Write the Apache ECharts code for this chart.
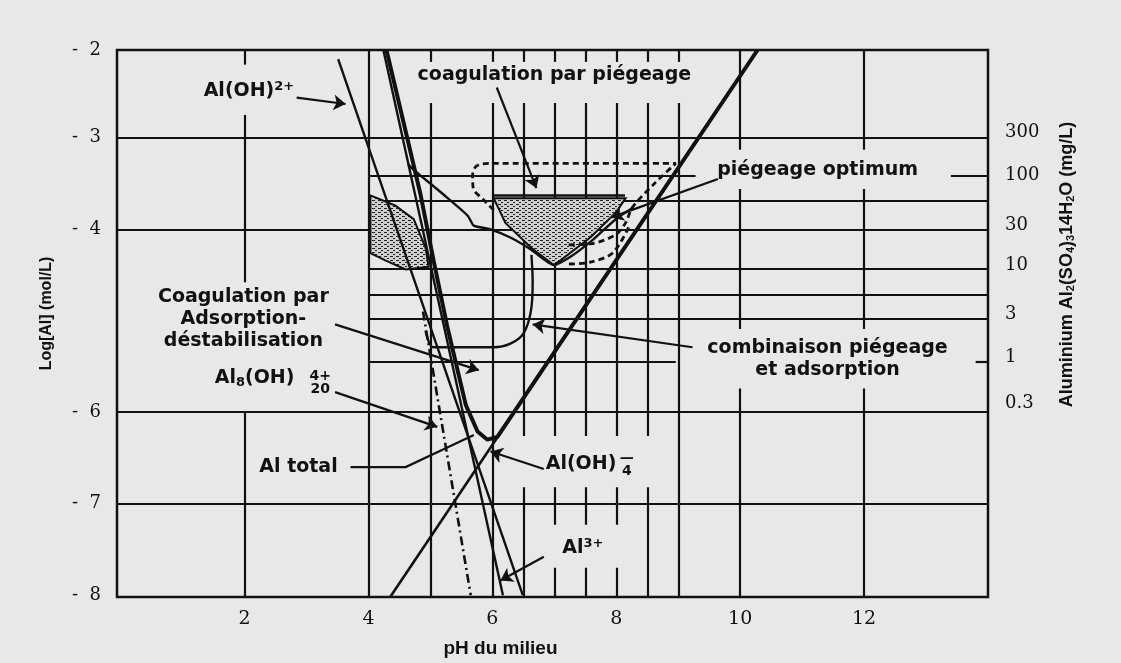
<!DOCTYPE html>
<html>
<head>
<meta charset="utf-8">
<script src="https://cdn.jsdelivr.net/npm/echarts@6/dist/echarts.min.js"></script>
<style>
  html, body { margin: 0; background: #e8e8e8; }
  #chart { width: 1121px; height: 663px; }
</style>
</head>
<body>
<div id="chart"></div>
<script>
// ticks (top tick sits on the frame edge)
const phTicks = [2, 4, 6, 8, 10, 12];
const logTicks = [-2.04, -3, -4, -6, -7, -8];
const mgTickLogs = [-2.94, -3.41, -3.96, -4.39, -4.93, -5.40, -5.90];
const mgTickLabels = ['300', '100', '30', '10', '3', '1', '0.3'];

// grid segments: vertical [pH, logFrom, logTo], horizontal [log, phFrom, phTo]
const gridVertical = [
  [2, -2.04, -2.2], [2, -2.75, -4.58], [2, -6, -8.02],
  [4, -2.04, -8.02],
  [5, -2.04, -2.17], [5, -2.62, -8.02],
  [6, -2.04, -2.17], [6, -2.62, -8.02],
  [6.5, -2.04, -2.17], [6.5, -2.62, -6.26], [6.5, -6.82, -8.02],
  [7, -2.04, -2.17], [7, -2.62, -6.26], [7, -6.82, -7.23], [7, -7.7, -8.02],
  [7.5, -2.04, -2.17], [7.5, -2.62, -6.26], [7.5, -6.82, -7.23], [7.5, -7.7, -8.02],
  [8, -2.04, -2.17], [8, -2.62, -6.26], [8, -6.82, -7.23], [8, -7.7, -8.02],
  [8.5, -2.04, -2.17], [8.5, -2.62, -6.26], [8.5, -6.82, -8.02],
  [9, -2.04, -2.17], [9, -2.62, -8.02],
  [10, -2.04, -3.13], [10, -3.56, -5.09], [10, -5.74, -8.02],
  [12, -2.04, -3.13], [12, -3.56, -5.09], [12, -5.74, -8.02]
];
const gridHorizontal = [
  [-3, -0.06, 14], [-4, -0.06, 14], [-6, -0.06, 14], [-7, -0.06, 14],
  [-3.42, 4, 9.28], [-3.42, 13.4, 14],
  [-3.69, 4, 14], [-4.43, 4, 14], [-4.72, 4, 14], [-4.98, 4, 14],
  [-5.45, 4, 8.96], [-5.45, 13.8, 14]
];

// species lines
const alOH2 = [[3.51, -2.14], [6.49, -8.0]];
const al3 = [[4.24, -2.04], [6.17, -8.0]];
const alOH4 = [[4.35, -8.02], [10.28, -2.04]];
const al8 = [[4.88, -4.9], [5.65, -8.0]];
const alTotal = [[4.29, -2.04], [4.84, -3.62], [5.05, -4.34], [5.27, -5.06], [5.57, -5.92],
  [5.76, -6.21], [5.92, -6.30], [6.08, -6.27], [10.28, -2.04]];

// zones
const sweepOuter = [[6.02, -3.79], [5.86, -3.68], [5.69, -3.55], [5.68, -3.41], [5.74, -3.31],
  [5.94, -3.28], [8.96, -3.28], [8.63, -3.49], [8.26, -3.76], [8.15, -3.93], [7.99, -4.06],
  [7.58, -4.16], [7.20, -4.17]];
const sweepInner = [[8.20, -3.98], [7.94, -4.26], [7.58, -4.36], [7.20, -4.38]];
const optimumZone = [[6.02, -3.66], [8.15, -3.66], [7.99, -3.82], [7.58, -4.09], [7.10, -4.34],
  [6.99, -4.39], [6.62, -4.20], [6.21, -3.93]];
const optimumTop = [[6.0, -3.63], [8.14, -3.63]];
const leftZone = [[4.03, -3.63], [4.43, -3.74], [4.73, -3.89], [4.92, -4.20], [4.97, -4.41],
  [4.60, -4.44], [4.27, -4.34], [4.03, -4.26]];
const comboCurve = [[4.92, -5.11], [5.05, -5.29], [6.02, -5.29], [6.29, -5.25], [6.50, -5.14],
  [6.62, -4.90], [6.65, -4.57], [6.63, -4.28]];
const vCurve = [[4.64, -3.29], [4.73, -3.35], [5.21, -3.62], [5.60, -3.85], [5.70, -3.96],
  [5.97, -4.00], [6.29, -4.09], [6.62, -4.22], [6.99, -4.39], [7.26, -4.30], [7.63, -4.11],
  [7.99, -3.89], [8.28, -3.76]];

// annotations
const arrowLines = [
  [[2.84, -2.56], [3.63, -2.63]],
  [[6.07, -2.45], [6.71, -3.55]],
  [[9.64, -3.45], [7.92, -3.87]],
  [[3.46, -5.04], [5.78, -5.54]],
  [[9.23, -5.29], [6.65, -5.04]],
  [[3.46, -5.78], [5.11, -6.16]],
  [[6.83, -6.62], [5.97, -6.43]],
  [[6.83, -7.58], [6.13, -7.84]]
];
const totalLeader = [[3.71, -6.60], [4.60, -6.60], [5.70, -6.25]];
const labelTexts = [
  [2.07, -2.49, 'Al(OH){sup|2+}'],
  [7.00, -2.31, 'coagulation par piégeage'],
  [11.25, -3.35, 'piégeage optimum'],
  [1.98, -4.98, 'Coagulation par\nAdsorption-\ndéstabilisation'],
  [2.16, -5.63, 'Al{sub|8}(OH)'],
  [3.22, -5.68, '{s|4+}\n{s|20}'],
  [2.87, -6.60, 'Al total'],
  [11.41, -5.42, 'combinaison piégeage\net adsorption'],
  [7.43, -6.57, 'Al(OH)'],
  [8.17, -6.57, '{s|—}\n{s|4}'],
  [7.46, -7.49, 'Al{sup|3+}']
];

const ink = '#111';

function stipple() {
  const c = document.createElement('canvas');
  c.width = 6; c.height = 4;
  const g = c.getContext('2d');
  g.fillStyle = '#cfcfcf'; g.fillRect(0, 0, 6, 4);
  g.fillStyle = '#222';
  g.fillRect(0, 0, 3, 1); g.fillRect(3, 2, 2, 1);
  return c;
}
const pattern = stipple();

function zone(points) {
  return {
    type: 'custom', silent: true, z: 2, data: [points[0]],
    renderItem: (params, api) => ({
      type: 'polygon',
      shape: { points: points.map(p => api.coord(p)) },
      style: { fill: { image: pattern, repeat: 'repeat' }, stroke: ink, lineWidth: 2 }
    })
  };
}

function curve(data, width, type, smooth) {
  return {
    type: 'line', data: data, showSymbol: false, silent: true, z: 3,
    smooth: smooth || false,
    lineStyle: { color: ink, width: width, type: type || 'solid' }
  };
}

const labelFont = { fontFamily: 'DejaVu Sans', fontWeight: 'bold', color: ink };

const chart = echarts.init(document.getElementById('chart'));
chart.setOption({
  backgroundColor: '#e8e8e8',
  animation: false,
  grid: { left: 117, right: 133, top: 50, bottom: 58, show: true, borderColor: ink, borderWidth: 2.5, backgroundColor: 'transparent' },
  xAxis: {
    type: 'value', min: -0.06, max: 14,
    name: 'pH du milieu', nameLocation: 'middle', nameGap: 42,
    nameTextStyle: { fontFamily: 'Liberation Sans', fontWeight: 'bold', fontSize: 19, color: ink, padding: [0, 104, 0, 0] },
    axisLine: { show: false }, axisTick: { show: false }, splitLine: { show: false },
    axisLabel: { customValues: phTicks, margin: 13, fontFamily: 'DejaVu Serif', fontSize: 19, color: ink }
  },
  yAxis: [{
    type: 'value', min: -8.02, max: -2.04,
    name: 'Log[Al] (mol/L)', nameLocation: 'middle', nameGap: 62, nameRotate: 90,
    nameTextStyle: { fontFamily: 'Liberation Sans', fontWeight: 'bold', fontSize: 16, color: ink, padding: [0, 0, 0, 20] },
    axisLine: { show: false }, axisTick: { show: false }, splitLine: { show: false },
    axisLabel: { customValues: logTicks, margin: 16, fontFamily: 'DejaVu Serif', fontSize: 18, color: ink,
      formatter: v => '-  ' + Math.round(Math.abs(v)) }
  }, {
    type: 'value', min: -8.02, max: -2.04, position: 'right',
    name: 'Aluminium Al{sub|2}(SO{sub|4}){sub|3}14H{sub|2}O (mg/L)', nameLocation: 'middle', nameGap: 70, nameRotate: 90,
    nameTextStyle: { fontFamily: 'Liberation Sans', fontWeight: 'bold', fontSize: 18, color: ink, padding: [0, 0, 0, 118],
      rich: { sub: { fontSize: 11, fontFamily: 'Liberation Sans', fontWeight: 'bold', color: ink, verticalAlign: 'bottom', lineHeight: 10 } } },
    axisLine: { show: false }, axisTick: { show: false }, splitLine: { show: false },
    axisLabel: { customValues: mgTickLogs, margin: 17, fontFamily: 'DejaVu Serif', fontSize: 18, color: ink,
      formatter: v => {
        let best = 0;
        mgTickLogs.forEach((t, i) => { if (Math.abs(t - v) < Math.abs(mgTickLogs[best] - v)) best = i; });
        return mgTickLabels[best];
      } }
  }],
  series: [
    {
      type: 'lines', coordinateSystem: 'cartesian2d', silent: true, z: 1,
      lineStyle: { color: ink, width: 2.2, opacity: 1 },
      data: gridVertical.map(s => ({ coords: [[s[0], s[1]], [s[0], s[2]]] }))
        .concat(gridHorizontal.map(s => ({ coords: [[s[1], s[0]], [s[2], s[0]]] })))
    },
    zone(leftZone),
    zone(optimumZone),
    curve(optimumTop, 2.4),
    curve(alOH2, 2.4),
    curve(al3, 2.4),
    curve(alOH4, 2.6),
    curve(al8, 2.6, [9, 4, 2, 4]),
    curve(alTotal, 4),
    curve(sweepOuter, 2.8, [6, 4], 0.3),
    curve(sweepInner, 2.8, [6, 4], 0.3),
    curve(comboCurve, 2.4, 'solid', 0.3),
    curve(vCurve, 2.4, 'solid', 0.2),
    {
      type: 'lines', coordinateSystem: 'cartesian2d', silent: true, z: 4,
      symbol: ['none', 'arrow'], symbolSize: [0, 12],
      lineStyle: { color: ink, width: 2.2, opacity: 1 },
      data: arrowLines.map(a => ({ coords: a }))
    },
    {
      type: 'lines', coordinateSystem: 'cartesian2d', polyline: true, silent: true, z: 4,
      lineStyle: { color: ink, width: 2.2, opacity: 1 },
      data: [{ coords: totalLeader }]
    },
    {
      type: 'scatter', silent: true, z: 5, symbolSize: 1,
      itemStyle: { color: 'rgba(0,0,0,0)', opacity: 1 },
      data: labelTexts.map(t => ({ value: [t[0], t[1]], name: t[2] })),
      label: Object.assign({
        show: true, position: 'inside', formatter: p => p.name,
        fontSize: 19, lineHeight: 22, opacity: 1,
        rich: {
          sup: Object.assign({ fontSize: 13, verticalAlign: 'top', lineHeight: 12 }, labelFont),
          sub: Object.assign({ fontSize: 13, verticalAlign: 'bottom', lineHeight: 12 }, labelFont),
          s: Object.assign({ fontSize: 14, lineHeight: 13 }, labelFont)
        }
      }, labelFont)
    }
  ]
});
</script>
</body>
</html>
